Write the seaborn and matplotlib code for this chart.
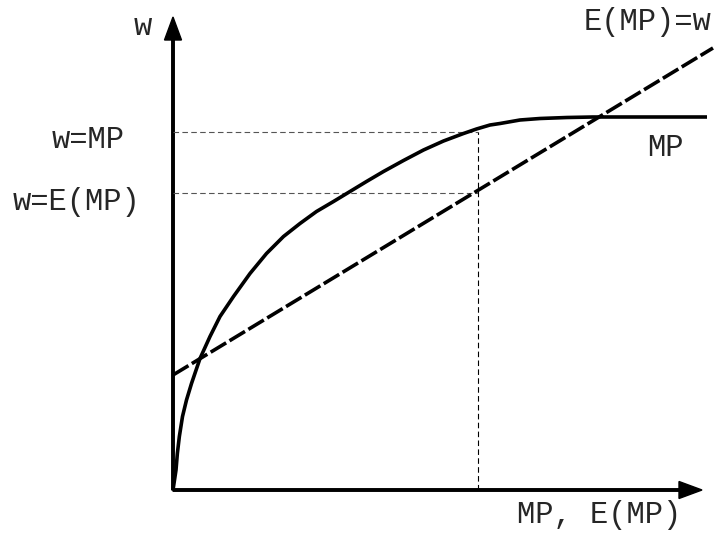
import numpy as np
import pandas as pd
import seaborn as sns
import matplotlib.pyplot as plt
from matplotlib import font_manager

# MP curve (x = quantity, y = wage units)
mp_x = [0.0, 0.03, 0.06, 0.087, 0.127, 0.19, 0.27, 0.37, 0.54, 0.74, 0.94,
        1.21, 1.54, 1.87, 2.21, 2.54, 2.87, 3.21, 3.54, 3.87, 4.21, 4.61,
        5.01, 5.41, 5.81, 6.07, 6.34, 6.54, 6.94, 7.34, 7.88, 8.40, 10.68]
mp_y = [0.0, 0.20, 0.40, 0.73, 1.07, 1.47, 1.80, 2.13, 2.63, 3.07, 3.47,
        3.87, 4.33, 4.73, 5.07, 5.33, 5.57, 5.77, 5.97, 6.17, 6.37, 6.59,
        6.80, 6.98, 7.13, 7.22, 7.30, 7.33, 7.40, 7.43, 7.45, 7.46, 7.46]

# E(MP)=w line
emp_x = [0.0, 10.8]
emp_y = [2.3, 8.84]

# reference levels
w_mp = 7.16
w_emp = 5.94
x_star = 6.1

x_axis_end = 10.58
y_axis_end = 9.46

sns.set_style('white')
names = {f.name for f in font_manager.fontManager.ttflist}
mono = 'Liberation Mono' if 'Liberation Mono' in names else 'DejaVu Sans Mono'
plt.rcParams['font.family'] = [mono, 'DejaVu Sans Mono']

fig = plt.figure(figsize=(7.18, 5.33), dpi=100)
ax = fig.add_axes([0, 0, 1, 1])
ax.set_xlim(-3.46, 10.9)
ax.set_ylim(-0.86, 9.8)
ax.axis('off')

# guide lines
ax.plot([0, x_star], [w_mp, w_mp], color='#555555', lw=0.8, ls=(0, (5, 3)))
ax.plot([0, x_star], [w_emp, w_emp], color='#555555', lw=0.8, ls=(0, (5, 3)))
ax.plot([x_star, x_star], [0, w_mp], color='black', lw=0.8, ls=(0, (5, 3)))

mp_df = pd.DataFrame({'x': mp_x, 'y': mp_y})
sns.lineplot(data=mp_df, x='x', y='y', ax=ax, color='black', lw=2.6,
             estimator=None, sort=False, solid_capstyle='butt',
             solid_joinstyle='round')

emp_df = pd.DataFrame({'x': emp_x, 'y': emp_y})
sns.lineplot(data=emp_df, x='x', y='y', ax=ax, color='black', lw=2.6,
             estimator=None, sort=False, linestyle=(0, (5, 1.1)))

# axes with arrows
ax.arrow(0, 0, x_axis_end, 0, width=0.05, head_width=0.34, head_length=0.46,
         length_includes_head=True, color='black')
ax.arrow(0, 0, 0, y_axis_end, width=0.05, head_width=0.34, head_length=0.46,
         length_includes_head=True, color='black')

fs = 22
txt = dict(fontsize=fs, ha='center', va='center', family=[mono, 'DejaVu Sans Mono'])
ax.text(-0.6, 9.26, 'w', **txt)
ax.text(9.48, 9.36, 'E(MP)=w', **txt)
ax.text(-1.7, 7.0, 'w=MP', **txt)
ax.text(-1.92, 5.76, 'w=E(MP)', **txt)
ax.text(9.84, 6.84, 'MP', **txt)
ax.text(8.52, -0.5, 'MP, E(MP)', **txt)

fig.savefig('out.png', dpi=100)
